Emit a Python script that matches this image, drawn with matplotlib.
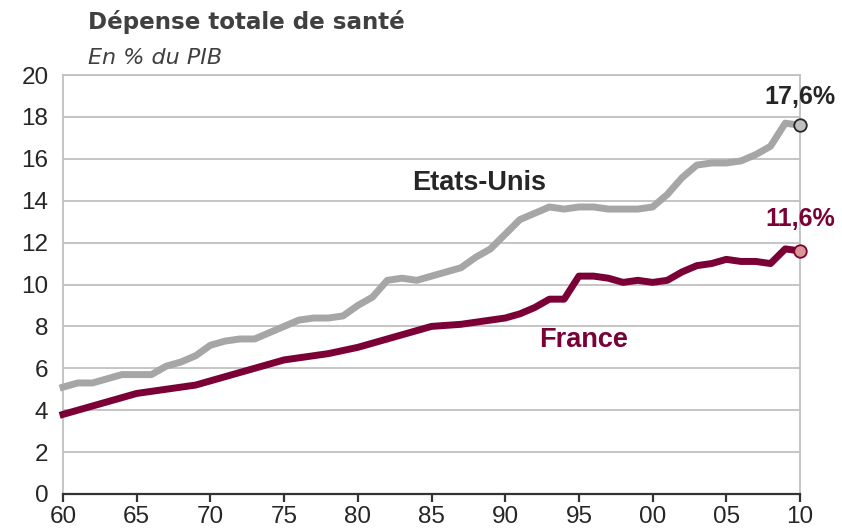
import matplotlib.pyplot as plt
import numpy as np

# Dépense totale de santé, en % du PIB (1960-2010)
years = np.arange(1960, 2011)
etats_unis = [5.1, 5.3, 5.3, 5.5, 5.7, 5.7, 5.7, 6.1, 6.3, 6.6,
              7.1, 7.3, 7.4, 7.4, 7.7, 8.0, 8.3, 8.4, 8.4, 8.5,
              9.0, 9.4, 10.2, 10.3, 10.2, 10.4, 10.6, 10.8, 11.3, 11.7,
              12.4, 13.1, 13.4, 13.7, 13.6, 13.7, 13.7, 13.6, 13.6, 13.6,
              13.7, 14.3, 15.1, 15.7, 15.8, 15.8, 15.9, 16.2, 16.6, 17.7,
              17.6]
france = [3.8, 4.0, 4.2, 4.4, 4.6, 4.8, 4.9, 5.0, 5.1, 5.2,
          5.4, 5.6, 5.8, 6.0, 6.2, 6.4, 6.5, 6.6, 6.7, 6.85,
          7.0, 7.2, 7.4, 7.6, 7.8, 8.0, 8.05, 8.1, 8.2, 8.3,
          8.4, 8.6, 8.9, 9.3, 9.3, 10.4, 10.4, 10.3, 10.1, 10.2,
          10.1, 10.2, 10.6, 10.9, 11.0, 11.2, 11.1, 11.1, 11.0, 11.7,
          11.6]
xticks = list(range(1960, 2011, 5))
xtick_labels = ["60", "65", "70", "75", "80", "85", "90", "95", "00", "05", "10"]
yticks = list(range(0, 21, 2))

grey = "#a6a6a6"
maroon = "#7a0036"
dark = "#262626"

fig = plt.figure(figsize=(8.42, 5.31), dpi=100)
ax = fig.add_axes([63 / 842, 1 - 494 / 531, (800 - 63) / 842, (494 - 75) / 531])

ax.plot(years, etats_unis, color=grey, lw=5, solid_joinstyle="round", clip_on=False, zorder=3)
ax.plot(years, france, color=maroon, lw=5, solid_joinstyle="round", clip_on=False, zorder=3)

# points finaux
ax.plot(years[-1], etats_unis[-1], "o", ms=9, mfc="#c0c0c0", mec=dark, mew=1.3, clip_on=False, zorder=4)
ax.plot(years[-1], france[-1], "o", ms=9, mfc="#d99694", mec=maroon, mew=1.3, clip_on=False, zorder=4)

ax.set_xlim(1960, 2010)
ax.set_ylim(0, 20)
ax.set_xticks(xticks)
ax.set_xticklabels(xtick_labels)
ax.set_yticks(yticks)

ax.grid(axis="y", color="#c0c0c0", lw=1.3)
ax.set_axisbelow(True)
for side in ["left", "right", "top"]:
    ax.spines[side].set_color("#c0c0c0")
    ax.spines[side].set_linewidth(1.3)
ax.spines["bottom"].set_color("#333333")
ax.spines["bottom"].set_linewidth(1.6)

ax.tick_params(axis="y", length=0, pad=10.5, labelsize=17.5, labelcolor=dark)
ax.tick_params(axis="x", direction="out", length=6, width=1.6, color="#333333",
               pad=2.5, labelsize=17.5, labelcolor=dark)
for lab in ax.get_xticklabels() + ax.get_yticklabels():
    lab.set_fontfamily("Liberation Sans")

# libellés des séries
ax.text(1988.2, 14.85, "Etats-Unis", fontsize=19.5, fontweight="bold", color=dark,
        family="Liberation Sans", ha="center", va="center")
ax.text(1995.3, 7.35, "France", fontsize=19.5, fontweight="bold", color=maroon,
        family="Liberation Sans", ha="center", va="center")
ax.text(2010, 18.95, "17,6%", fontsize=18, fontweight="bold", color=dark,
        family="Liberation Sans", ha="center", va="center")
ax.text(2010, 13.15, "11,6%", fontsize=18, fontweight="bold", color=maroon,
        family="Liberation Sans", ha="center", va="center")

# titres
fig.text(88 / 842, 1 - 22 / 531, "Dépense totale de santé", fontsize=16.6, fontweight="bold",
         color="#404040", family="DejaVu Sans", ha="left", va="center")
fig.text(88 / 842, 1 - 58 / 531, "En % du PIB", fontsize=16, style="italic",
         color="#404040", family="DejaVu Sans", ha="left", va="center")

fig.savefig("out.png", dpi=100)
